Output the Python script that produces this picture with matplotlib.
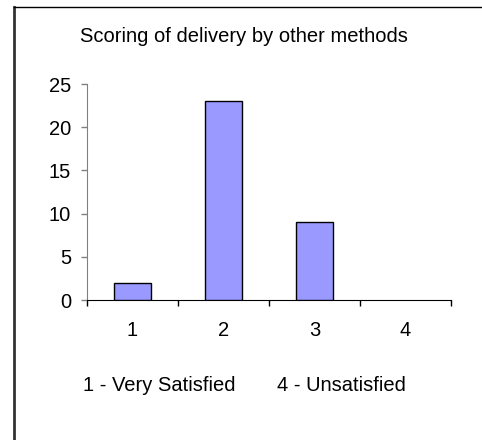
import matplotlib
matplotlib.use("Agg")
import matplotlib.pyplot as plt
from matplotlib.lines import Line2D

plt.rcParams['font.family'] = ['Liberation Sans', 'DejaVu Sans']

scores = [1, 2, 3, 4]
counts = [2, 23, 9, 0]
score_labels = ['1', '2', '3', '4']
y_ticks = [0, 5, 10, 15, 20, 25]

title = 'Scoring of delivery by other methods'
note_left = '1 - Very Satisfied'
note_right = '4 - Unsatisfied'

FS = 14.5
W, H = 482, 440
fig = plt.figure(figsize=(W / 100, H / 100), dpi=100)
ax = fig.add_axes([87 / W, 1 - 300 / H, (451 - 87) / W, (300 - 84) / H])

# a zero count leaves no visible bar
edges = ['black' if c > 0 else 'none' for c in counts]
ax.bar(scores, counts, width=0.4, color='#9999FF', edgecolor=edges,
       linewidth=1.0, zorder=3)

ax.set_xlim(0.5, 4.5)
ax.set_ylim(0, 25)
ax.set_yticks(y_ticks)
ax.tick_params(axis='y', direction='out', length=4.5, width=1, color='#808080',
               labelsize=FS, pad=7)

# major x ticks on category boundaries, labels on minor ticks at centres
ax.set_xticks([s - 0.5 for s in scores] + [scores[-1] + 0.5])
ax.set_xticklabels([])
ax.set_xticks(scores, minor=True)
ax.tick_params(axis='x', which='major', direction='out', length=4.5, width=1,
               color='black')
ax.set_xticklabels(score_labels, minor=True)
ax.tick_params(axis='x', which='minor', length=0, labelsize=FS, pad=15)

for side in ('top', 'right'):
    ax.spines[side].set_visible(False)
ax.spines['left'].set_color('#808080')
ax.spines['bottom'].set_color('black')

fig.text(244 / W, 1 - 36 / H, title, ha='center', va='center', fontsize=FS)
fig.text(83 / W, 1 - 385 / H, note_left, ha='left', va='center', fontsize=FS)
fig.text(277 / W, 1 - 385 / H, note_right, ha='left', va='center', fontsize=FS)

# chart area border (only top and left edges are visible in the crop)
fig.add_artist(Line2D([14 / W, 14 / W], [0, 1 - 7 / H], transform=fig.transFigure,
                      color='#333333', linewidth=2))
fig.add_artist(Line2D([14 / W, 1], [1 - 7 / H, 1 - 7 / H], transform=fig.transFigure,
                      color='black', linewidth=1))

fig.savefig('out.png', dpi=100, facecolor='white')
